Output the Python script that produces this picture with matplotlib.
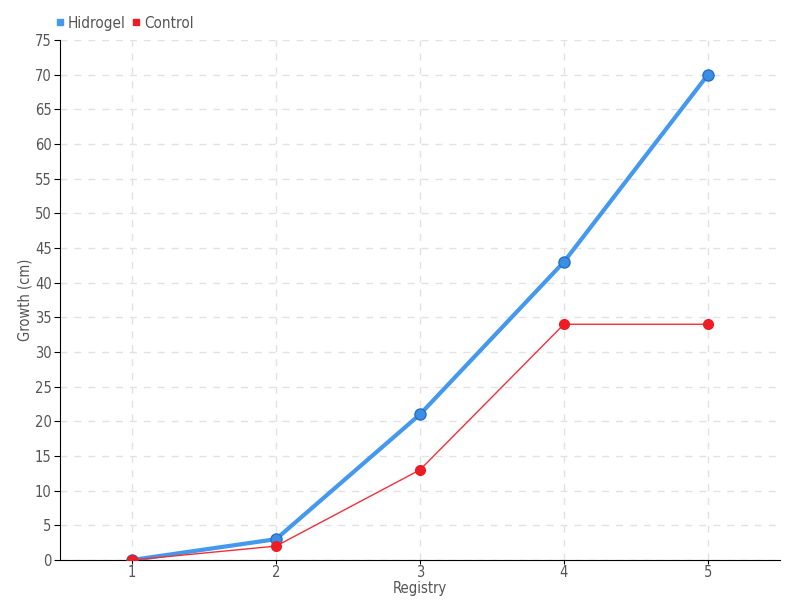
import matplotlib
matplotlib.use('Agg')
import matplotlib.pyplot as plt
from matplotlib.lines import Line2D

plt.rcParams['font.family'] = ['DejaVu Sans']
plt.rcParams['font.stretch'] = 'condensed'

# data
registry = [1, 2, 3, 4, 5]
hidrogel = [0, 3, 21, 43, 70]
control = [0, 2, 13, 34, 34]
y_ticks = list(range(0, 80, 5))

fig = plt.figure(figsize=(8, 6), dpi=100)
ax = fig.add_axes([0.075, 0.0667, 0.9, 0.8667])

ax.plot(registry, hidrogel, color='#4499ee', lw=3, marker='o', ms=8,
        mfc='#3a8ee6', mec='#2a6fc0', mew=1, zorder=3)
ax.plot(registry, control, color='#f0303a', lw=1, marker='o', ms=7,
        mfc='#ee1c25', mec='#ee1c25', zorder=4)

ax.set_xlim(0.5, 5.5)
ax.set_ylim(0, 75)
ax.set_xticks(registry)
ax.set_yticks(y_ticks)
ax.tick_params(labelsize=10.5, labelcolor='#555555', color='black', length=4)
ax.tick_params(axis='x', pad=0.5, length=3)
ax.tick_params(axis='y', pad=2)
ax.grid(True, color='#e2e2e2', ls=(0, (5, 5)), lw=1)
ax.set_axisbelow(True)
for s in ['top', 'right']:
    ax.spines[s].set_visible(False)

ax.set_ylabel('Growth (cm)', fontsize=10.5, color='#555555')
ax.yaxis.set_label_coords(-0.038, 0.5)
ax.set_xlabel('Registry', fontsize=10.5, color='#555555')
ax.xaxis.set_label_coords(0.5, -0.040)

handles = [Line2D([], [], ls='', marker='s', color='#4499ee', ms=5),
           Line2D([], [], ls='', marker='s', color='#ee1c25', ms=5)]
fig.legend(handles, ['Hidrogel', 'Control'], loc='upper left',
           bbox_to_anchor=(0.052, 0.997), ncol=2, frameon=False,
           fontsize=11, handlelength=0.6, handletextpad=0.2,
           columnspacing=0.4, labelcolor='#555555')

fig.savefig('out.png', dpi=100)
